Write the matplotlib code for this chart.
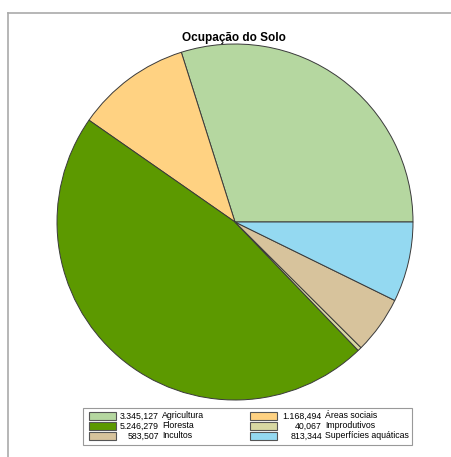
import matplotlib.pyplot as plt
from matplotlib.patches import Rectangle
from matplotlib.lines import Line2D

# Land use data
categories = ["Agricultura", "Áreas sociais", "Floresta", "Improdutivos",
              "Incultos", "Superfícies aquáticas"]
values = [3345127, 1168494, 5246279, 40067, 583507, 813344]
value_labels = ["3.345,127", "1.168,494", "5.246,279", "40,067",
                "583,507", "813,344"]
colors = ["#b5d7a0", "#ffd282", "#5c9900", "#d8d8a2", "#d7c39c", "#94d9f1"]

W, H = 451, 457
fig = plt.figure(figsize=(W / 100, H / 100), dpi=100)
fig.patch.set_facecolor("white")

# frame lines (top and left)
fig.add_artist(Line2D([8 / W, 1], [1 - 13 / H, 1 - 13 / H], color="#aaaaaa", lw=1.2))
fig.add_artist(Line2D([8 / W, 8 / W], [0, 1 - 13 / H], color="#aaaaaa", lw=1.2))

# pie
cx, cy, r = 235, 222, 178
ax = fig.add_axes([(cx - r) / W, (H - cy - r) / H, 2 * r / W, 2 * r / H])
ax.pie(values, colors=colors, startangle=0, counterclock=True,
       wedgeprops=dict(edgecolor="#3a3a3a", linewidth=0.7))
ax.set_xlim(-1, 1)
ax.set_ylim(-1, 1)
ax.set_aspect("auto")
ax.axis("off")

fig.text(234 / W, 1 - 38 / H, "Ocupação do Solo", ha="center", va="center",
         fontsize=8.5, fontweight="bold", family="Liberation Sans")

# legend (row-wise, 2 columns)
fig.add_artist(Rectangle((83 / W, 1 - 445 / H), 329 / W, 37 / H,
                         transform=fig.transFigure, facecolor="white",
                         edgecolor="#999999", lw=0.8))
col_patch = [89, 250]
col_num = [159, 322]
rows_y = [416, 426, 436]
for i, (cat, lab, c) in enumerate(zip(categories, value_labels, colors)):
    row, col = divmod(i, 2)
    y = rows_y[row]
    fig.add_artist(Rectangle((col_patch[col] / W, 1 - (y + 4) / H), 27 / W, 8 / H,
                             transform=fig.transFigure, facecolor=c,
                             edgecolor="#555555", lw=0.8))
    fig.text(col_num[col] / W, 1 - y / H, lab, ha="right", va="center",
             fontsize=6.3, family="Liberation Sans")
    fig.text((col_num[col] + 3) / W, 1 - y / H, cat, ha="left", va="center",
             fontsize=6.3, family="Liberation Sans")

fig.savefig("out.png", dpi=100)
